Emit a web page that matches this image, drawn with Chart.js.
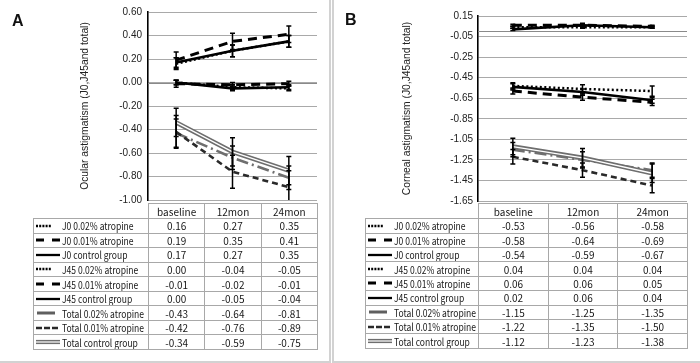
<!DOCTYPE html>
<html><head><meta charset="utf-8">
<script src="https://cdn.jsdelivr.net/npm/chart.js@4.4.0/dist/chart.umd.min.js"></script>
<style>
html,body{margin:0;padding:0;background:#fff;width:700px;height:363px;overflow:hidden;position:relative;}
.frame{position:absolute;border:2px solid #d2d2d2;box-sizing:border-box;}
canvas{position:absolute;top:0;}
.lbl{position:absolute;font:bold 16px "Liberation Sans",Arial,sans-serif;color:#111;}
.cell{position:absolute;box-sizing:border-box;border:1px solid #a8a8a8;font:10px "Noto Sans CJK SC","Liberation Sans",sans-serif;color:#161616;display:flex;align-items:center;justify-content:center;white-space:nowrap;overflow:hidden;}
.cell.leg{justify-content:flex-start;padding-left:1px;}
.cell.leg svg{flex:none;}
.cell.leg span{display:inline-block;transform-origin:0 50%;}
</style></head>
<body>
<div class="frame" style="left:-2px;top:-2px;width:333px;height:365px;"></div>
<div class="frame" style="left:332px;top:-2px;width:372px;height:365px;"></div>
<canvas id="cA" width="330" height="212" style="left:0;"></canvas>
<canvas id="cB" width="367" height="212" style="left:333px;"></canvas>
<div class="lbl" style="left:12px;top:12px;">A</div>
<div class="lbl" style="left:345px;top:11px;">B</div>
<div id="tA"></div><div id="tB"></div>
<script>
// ---------- data ----------
const categories = ['baseline', '12mon', '24mon'];
const seriesNames = ['J0 0.02% atropine','J0 0.01% atropine','J0 control group','J45 0.02% atropine','J45 0.01% atropine','J45 control group','Total 0.02% atropine','Total 0.01% atropine','Total control group'];

// Panel A: ocular astigmatism
const ocularJ0_002  = [0.16, 0.27, 0.35];
const ocularJ0_001  = [0.19, 0.35, 0.41];
const ocularJ0_ctrl = [0.17, 0.27, 0.35];
const ocularJ45_002  = [0.00, -0.04, -0.05];
const ocularJ45_001  = [-0.01, -0.02, -0.01];
const ocularJ45_ctrl = [0.00, -0.05, -0.04];
const ocularTot_002  = [-0.43, -0.64, -0.81];
const ocularTot_001  = [-0.42, -0.76, -0.89];
const ocularTot_ctrl = [-0.34, -0.59, -0.75];
// estimated error bars
const ocularErrJ0_002  = [0.05, 0.05, 0.05];
const ocularErrJ0_001  = [0.07, 0.07, 0.07];
const ocularErrJ0_ctrl = [0.04, 0.05, 0.05];
const ocularErrJ45_002  = [0.02, 0.02, 0.02];
const ocularErrJ45_001  = [0.03, 0.02, 0.02];
const ocularErrJ45_ctrl = [0.02, 0.02, 0.02];
const ocularErrTot_002  = [0.12, 0.10, 0.10];
const ocularErrTot_001  = [0.14, 0.14, 0.14];
const ocularErrTot_ctrl = [0.12, 0.12, 0.12];
const ocularTicks = [0.6, 0.4, 0.2, 0, -0.2, -0.4, -0.6, -0.8, -1.0];

// Panel B: corneal astigmatism
const cornealJ0_002  = [-0.53, -0.56, -0.58];
const cornealJ0_001  = [-0.58, -0.64, -0.69];
const cornealJ0_ctrl = [-0.54, -0.59, -0.67];
const cornealJ45_002  = [0.04, 0.04, 0.04];
const cornealJ45_001  = [0.06, 0.06, 0.05];
const cornealJ45_ctrl = [0.02, 0.06, 0.04];
const cornealTot_002  = [-1.15, -1.25, -1.35];
const cornealTot_001  = [-1.22, -1.35, -1.50];
const cornealTot_ctrl = [-1.12, -1.23, -1.38];
const cornealErrJ0_002  = [0.03, 0.04, 0.05];
const cornealErrJ0_001  = [0.03, 0.03, 0.03];
const cornealErrJ0_ctrl = [0.03, 0.03, 0.03];
const cornealErrJ45_002  = [0.01, 0.01, 0.01];
const cornealErrJ45_001  = [0.01, 0.01, 0.01];
const cornealErrJ45_ctrl = [0.01, 0.02, 0.01];
const cornealErrTot_002  = [0.07, 0.08, 0.07];
const cornealErrTot_001  = [0.07, 0.07, 0.07];
const cornealErrTot_ctrl = [0.08, 0.09, 0.09];
const cornealTicks = [0.15, -0.05, -0.25, -0.45, -0.65, -0.85, -1.05, -1.25, -1.45, -1.65];

// ---------- styles ----------
const styleKeys = ['dot','dash','solid','dot','dash','solid','tot002','tot001','totctl'];
const styles = {
  dot:   {borderColor:'#000', borderWidth:2.5, borderDash:[2,2.5]},
  dash:  {borderColor:'#000', borderWidth:3, borderDash:[9,6]},
  solid: {borderColor:'#000', borderWidth:2.6},
  tot002:{borderColor:'#6f6f6f', borderWidth:2.6, borderDash:[12,4,2,4]},
  tot001:{borderColor:'#2a2a2a', borderWidth:2.6, borderDash:[6,4]},
  totctl:{borderColor:'#6e6e6e', borderWidth:4.5}
};

function buildDatasets(values, errs){
  const ds = [];
  values.forEach((v, i) => {
    const st = styles[styleKeys[i]];
    ds.push(Object.assign({data:v, errors:errs[i], pointRadius:0, tension:0, fill:false, order:100-2*i}, st));
    if (styleKeys[i] === 'totctl') {
      ds.push({data:v, pointRadius:0, tension:0, fill:false, borderColor:'#fff', borderWidth:1.3, order:100-2*i-1});
    }
  });
  return ds;
}

const errorBarPlugin = {
  id:'errbars',
  afterDatasetsDraw(chart){
    const ctx = chart.ctx, a = chart.chartArea, ys = chart.scales.y;
    ctx.save();
    ctx.beginPath(); ctx.rect(a.left-5, a.top-6, a.right-a.left+10, a.bottom-a.top+6); ctx.clip();
    ctx.strokeStyle = '#000'; ctx.lineWidth = 1.5; ctx.setLineDash([]);
    chart.data.datasets.forEach((d, i) => {
      if (!d.errors) return;
      const meta = chart.getDatasetMeta(i);
      meta.data.forEach((pt, j) => {
        const x = pt.x, y1 = ys.getPixelForValue(d.data[j] + d.errors[j]), y2 = ys.getPixelForValue(d.data[j] - d.errors[j]);
        ctx.beginPath();
        ctx.moveTo(x, y1); ctx.lineTo(x, y2);
        ctx.moveTo(x-2.5, y1); ctx.lineTo(x+2.5, y1);
        ctx.moveTo(x-2.5, y2); ctx.lineTo(x+2.5, y2);
        ctx.stroke();
      });
    });
    ctx.restore();
  },
  beforeDatasetsDraw(chart){
    const ctx = chart.ctx, a = chart.chartArea, y0 = chart.scales.y.getPixelForValue(0);
    ctx.save(); ctx.strokeStyle = '#8a8a8a'; ctx.lineWidth = 1;
    ctx.beginPath(); ctx.moveTo(a.left, Math.round(y0)+0.5); ctx.lineTo(a.right, Math.round(y0)+0.5); ctx.stroke();
    ctx.restore();
  }
};

function makeChart(id, values, errs, ticks, title, axisW, titlePad, pad, ymin, ymax, tickPad){
  return new Chart(document.getElementById(id), {
    type:'line',
    data:{labels:categories, datasets:buildDatasets(values, errs)},
    plugins:[errorBarPlugin],
    options:{
      responsive:false, animation:false, devicePixelRatio:1,
      layout:{padding:pad},
      plugins:{legend:{display:false}, tooltip:{enabled:false}},
      events:[],
      scales:{
        x:{display:false, offset:true},
        y:{
          min:ymin, max:ymax,
          afterBuildTicks: s => { s.ticks = ticks.map(v => ({value:v})); },
          afterFit: s => { s.width = axisW; },
          grid:{color:'#a9a9a9', lineWidth:1, drawTicks:false},
          border:{color:'#000', width:1.6},
          ticks:{padding:tickPad, color:'#222', font:{family:'"Liberation Sans", Arial, sans-serif', size:10}, callback:v => Number(v).toFixed(2)},
          title:{display:true, text:title, color:'#222', padding:{top:titlePad, bottom:0}, font:{family:'"Liberation Sans", Arial, sans-serif', size:10.3}}
        }
      }
    }
  });
}

const ocularValues = [ocularJ0_002, ocularJ0_001, ocularJ0_ctrl, ocularJ45_002, ocularJ45_001, ocularJ45_ctrl, ocularTot_002, ocularTot_001, ocularTot_ctrl];
const ocularErrs = [ocularErrJ0_002, ocularErrJ0_001, ocularErrJ0_ctrl, ocularErrJ45_002, ocularErrJ45_001, ocularErrJ45_ctrl, ocularErrTot_002, ocularErrTot_001, ocularErrTot_ctrl];
const cornealValues = [cornealJ0_002, cornealJ0_001, cornealJ0_ctrl, cornealJ45_002, cornealJ45_001, cornealJ45_ctrl, cornealTot_002, cornealTot_001, cornealTot_ctrl];
const cornealErrs = [cornealErrJ0_002, cornealErrJ0_001, cornealErrJ0_ctrl, cornealErrJ45_002, cornealErrJ45_001, cornealErrJ45_ctrl, cornealErrTot_002, cornealErrTot_001, cornealErrTot_ctrl];

makeChart('cA', ocularValues, ocularErrs, ocularTicks, 'Ocular astigmatism (J0,J45and total)', 148, 79, {top:11, right:13, bottom:9, left:0}, -1.0, 0.6, 6);
makeChart('cB', cornealValues, cornealErrs, cornealTicks, 'Corneal astigmatism (J0,J45and total)', 145, 68, {top:16, right:13, bottom:9, left:0}, -1.65, 0.15, 5);

// ---------- data tables ----------
// legend text: 10.5px tall, horizontally condensed so "Total 0.02% atropine" is ~82px wide (as in the reference)
const LEG_SIZE = 10.5;
const mctx = document.createElement('canvas').getContext('2d');
mctx.font = LEG_SIZE + 'px "Noto Sans CJK SC"';
const legScale = Math.min(1, 82 / mctx.measureText('Total 0.02% atropine').width);

function sampleSvg(key){
  const w = 27, h = 8, y = 4;
  let s = '';
  if (key === 'dot') s = `<line x1="1" y1="${y}" x2="16" y2="${y}" stroke="#000" stroke-width="2.3" stroke-dasharray="2,1.2"/>`;
  else if (key === 'dash') s = `<line x1="1" y1="${y}" x2="25" y2="${y}" stroke="#000" stroke-width="3" stroke-dasharray="8,8"/>`;
  else if (key === 'solid') s = `<line x1="1" y1="${y}" x2="25" y2="${y}" stroke="#000" stroke-width="2.3"/>`;
  else if (key === 'tot002') s = `<line x1="2" y1="${y}" x2="20" y2="${y}" stroke="#5f5f5f" stroke-width="3"/>`;
  else if (key === 'tot001') s = `<line x1="1" y1="${y}" x2="25" y2="${y}" stroke="#2a2a2a" stroke-width="2.6" stroke-dasharray="6,2"/>`;
  else s = `<line x1="1" y1="${y}" x2="25" y2="${y}" stroke="#6e6e6e" stroke-width="4.2"/><line x1="1" y1="${y}" x2="25" y2="${y}" stroke="#fff" stroke-width="1.2"/>`;
  return `<svg width="${w}" height="${h}" viewBox="0 0 ${w} ${h}">${s}</svg>`;
}
function buildTable(id, colX, top, headerBottom, bottom, values){
  const el = document.getElementById(id);
  let html = '';
  const cell = (x0, x1, y0, y1, content, cls) => {
    html += `<div class="cell ${cls||''}" style="left:${x0}px;top:${y0}px;width:${x1-x0+1}px;height:${y1-y0+1}px;">${content}</div>`;
  };
  for (let c = 0; c < 3; c++) cell(colX[c+1], colX[c+2], top, headerBottom, categories[c]);
  const rh = (bottom - headerBottom) / seriesNames.length;
  seriesNames.forEach((name, r) => {
    const y0 = headerBottom + r*rh, y1 = y0 + rh;
    cell(colX[0], colX[1], y0, y1, sampleSvg(styleKeys[r]) + `<span style="font-size:${LEG_SIZE}px;transform:scaleX(${legScale})">` + name + '</span>', 'leg');
    for (let c = 0; c < 3; c++) cell(colX[c+1], colX[c+2], y0, y1, values[r][c].toFixed(2));
  });
  el.innerHTML = html;
}
buildTable('tA', [33, 148, 204.3, 260.7, 317], 203, 218, 349, ocularValues);
buildTable('tB', [365, 478, 547.7, 617.3, 687], 203, 218.3, 347.7, cornealValues);
</script>
</body></html>
